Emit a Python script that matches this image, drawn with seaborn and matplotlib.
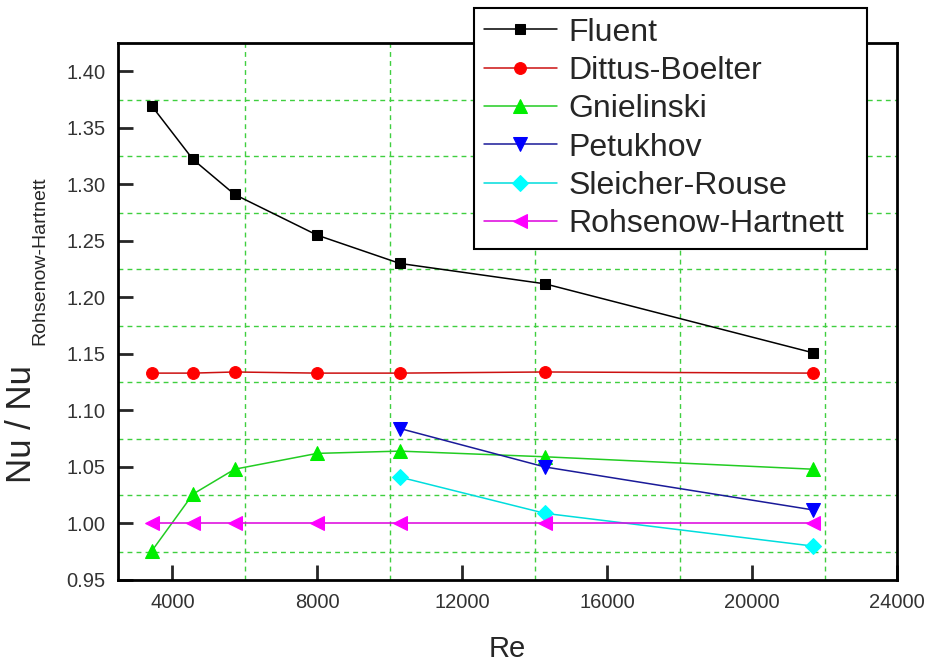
import matplotlib
matplotlib.use("Agg")
import matplotlib.pyplot as plt
import seaborn as sns
import pandas as pd
from matplotlib.ticker import MultipleLocator, FixedLocator, FormatStrFormatter

sns.set_theme(style="white")
plt.rcParams['font.family'] = ['Liberation Sans', 'DejaVu Sans']

re_all = [3440, 4570, 5720, 8000, 10280, 14280, 21680]
re_high = [10280, 14280, 21680]

fluent = [1.369, 1.322, 1.291, 1.255, 1.230, 1.212, 1.151]
dittus = [1.133, 1.133, 1.134, 1.133, 1.133, 1.134, 1.133]
gnielinski = [0.976, 1.026, 1.048, 1.062, 1.064, 1.059, 1.048]
petukhov = [1.084, 1.050, 1.012]
sleicher = [1.041, 1.009, 0.980]
rohsenow = [1.000, 1.000, 1.000, 1.000, 1.000, 1.000, 1.000]

x_ticks = [4000, 8000, 12000, 16000, 20000, 24000]

series = [
    ("Fluent", re_all, fluent, "s", "black", "black", 7.5),
    ("Dittus-Boelter", re_all, dittus, "o", "#ff0000", "#cc1111", 8.5),
    ("Gnielinski", re_all, gnielinski, "^", "#00ee00", "#22cc22", 10),
    ("Petukhov", re_high, petukhov, "v", "#0000ff", "#1a1a99", 10),
    ("Sleicher-Rouse", re_high, sleicher, "D", "#00ffff", "#00dddd", 8.5),
    ("Rohsenow-Hartnett", re_all, rohsenow, "<", "#ff00ff", "#dd00dd", 10),
]

fig = plt.figure(figsize=(9.39, 6.62), dpi=100)
ax = fig.add_axes([118/939, 1-580/662, (897-118)/939, (580-43)/662])

for name, xs, ys, mk, mc, lc, ms in series:
    df = pd.DataFrame({"Re": xs, "val": ys})
    sns.lineplot(data=df, x="Re", y="val", ax=ax, color=lc, lw=1.1,
                 marker=mk, markersize=ms, markerfacecolor=mc,
                 markeredgecolor=mc, label=name)

ax.set_xlim(2500, 24000)
ax.set_ylim(0.95, 1.425)
ax.xaxis.set_major_locator(FixedLocator(x_ticks))
ax.xaxis.set_minor_locator(FixedLocator([6000, 10000, 14000, 18000, 22000]))
ax.yaxis.set_major_locator(MultipleLocator(0.05))
ax.yaxis.set_minor_locator(FixedLocator([0.975 + 0.05*i for i in range(9)]))
ax.yaxis.set_major_formatter(FormatStrFormatter('%.2f'))

ax.grid(False)
ax.grid(which='minor', color='#3fcf3f', linestyle=(0, (3.5, 3)), linewidth=1.0)
ax.tick_params(which='major', direction='in', length=11, width=2,
               labelsize=14.5, labelcolor='#333333', pad=9,
               bottom=True, left=True, top=False, right=False)
ax.tick_params(which='minor', length=0)
for s in ax.spines.values():
    s.set_linewidth(2)
    s.set_color('black')

ax.set_xlabel("Re", fontsize=21, labelpad=17)
ax.set_ylabel("")
fig.text(22/939, 1-424/662, "Nu / Nu", rotation=90, fontsize=25,
         ha='center', va='center')
fig.text(40/939, 1-261/662, "Rohsenow-Hartnett", rotation=90, fontsize=14,
         ha='center', va='center')

leg = ax.legend(loc='upper left',
                bbox_to_anchor=(474/939, 1-250/662, 393/939, 242/662),
                bbox_transform=fig.transFigure, borderaxespad=0, mode='expand',
                fontsize=23, frameon=True, fancybox=False, framealpha=1,
                edgecolor='black', handlelength=2.3, labelspacing=0.26,
                handletextpad=0.35, borderpad=0.3)
leg.get_frame().set_linewidth(1.5)

fig.savefig("out.png", dpi=100)
